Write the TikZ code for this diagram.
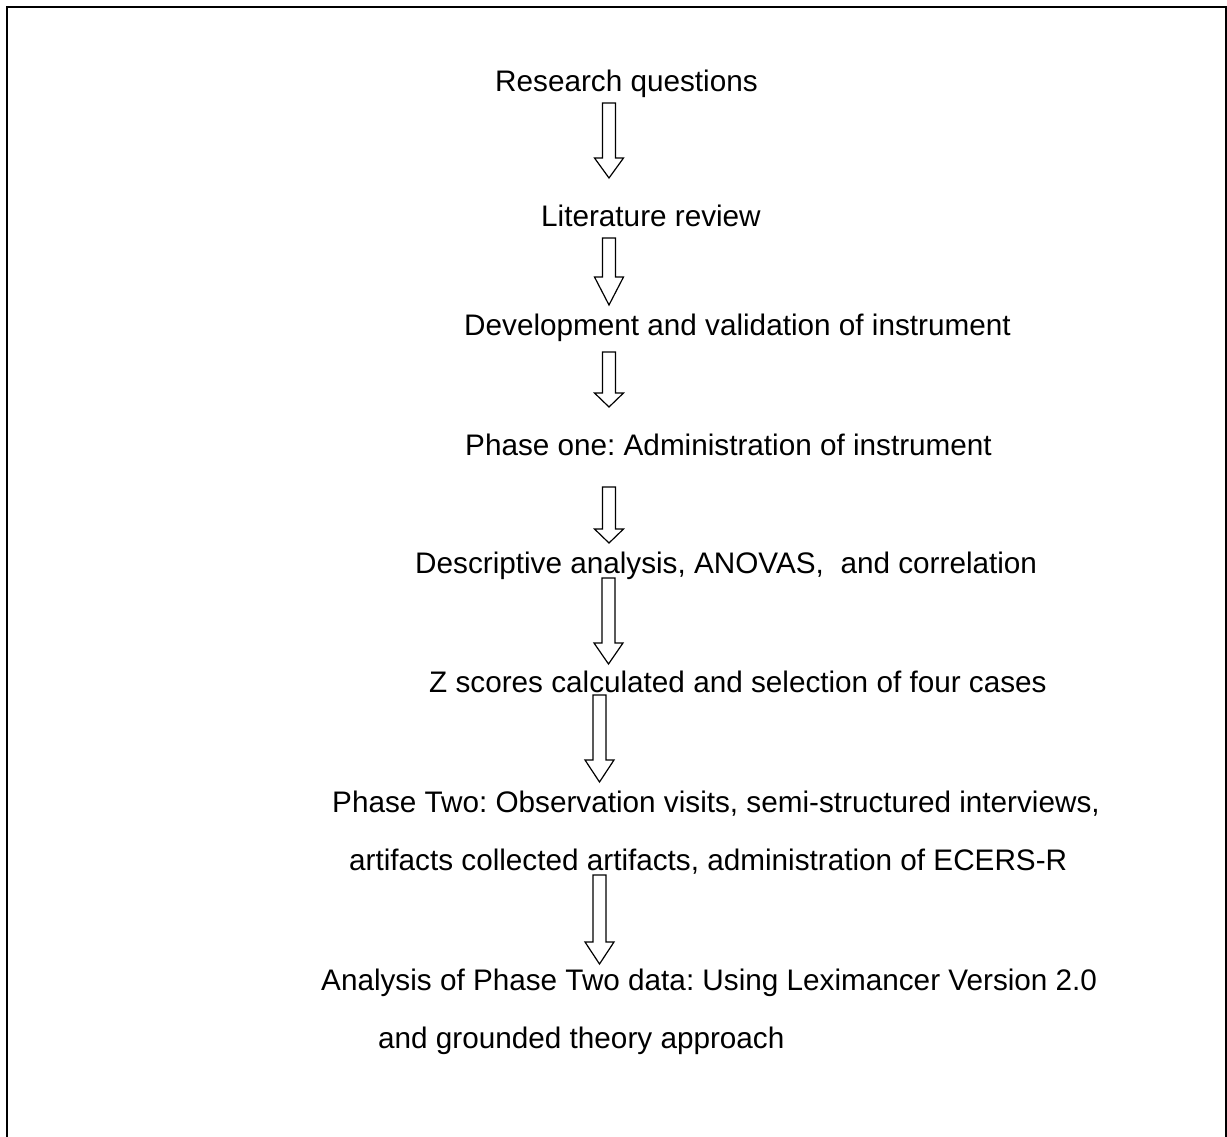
\documentclass[tikz,border=0pt]{standalone}
\usepackage{fontspec}
\setmainfont{Liberation Sans}
\frenchspacing
\begin{document}
\begin{tikzpicture}[x=1pt,y=-1pt,
  lbl/.style={anchor=base west,inner sep=0pt,font=\fontsize{29.7}{36}\selectfont},
  arrowline/.style={draw=black,line width=1.2pt,fill=white,line join=miter},
  framebox/.style={draw=black,line width=2pt}]
\useasboundingbox (0,0) rectangle (1227,1137);
\newcommand\blockarr[4]{%
  \draw[arrowline] (#1-6.5,#2) -- (#1+6.5,#2) -- (#1+6.5,#3) -- (#1+14.5,#3)
    -- (#1,#4) -- (#1-14.5,#3) -- (#1-6.5,#3) -- cycle;}
% frame (open at bottom)
\draw[framebox] (7,1137) -- (7,7) -- (1226,7) -- (1226,1137);
% texts
\node[lbl] (t1) at (495,92) {Research questions};
\node[lbl] (t2) at (541,226) {Literature review};
\node[lbl] (t3) at (464,335) {Development and validation of instrument};
\node[lbl] (t4) at (465,455) {Phase one: Administration of instrument};
\node[lbl] (t5) at (415,573) {Descriptive analysis, ANOVAS,\hspace{0.56em}and correlation};
\node[lbl] (t6) at (429,692) {Z scores calculated and selection of four cases};
\node[lbl] (t7) at (332,812) {Phase Two: Observation visits, semi-structured interviews,};
\node[lbl] (t8) at (349,870) {artifacts collected artifacts, administration of ECERS-R};
\node[lbl] (t9) at (321,990) {Analysis of Phase Two data: Using Leximancer Version 2.0};
\node[lbl] (t10) at (378,1048) {and grounded theory approach};
% block arrows: x centre, shaft top, head base, tip
\blockarr{609}{103}{158}{178}
\blockarr{609}{238}{277}{305}
\blockarr{609}{352}{393}{407}
\blockarr{609}{487}{529}{543}
\blockarr{608.5}{578}{643}{664}
\blockarr{599.5}{695}{760}{782}
\blockarr{599.5}{875}{942}{964}
\end{tikzpicture}
\end{document}
